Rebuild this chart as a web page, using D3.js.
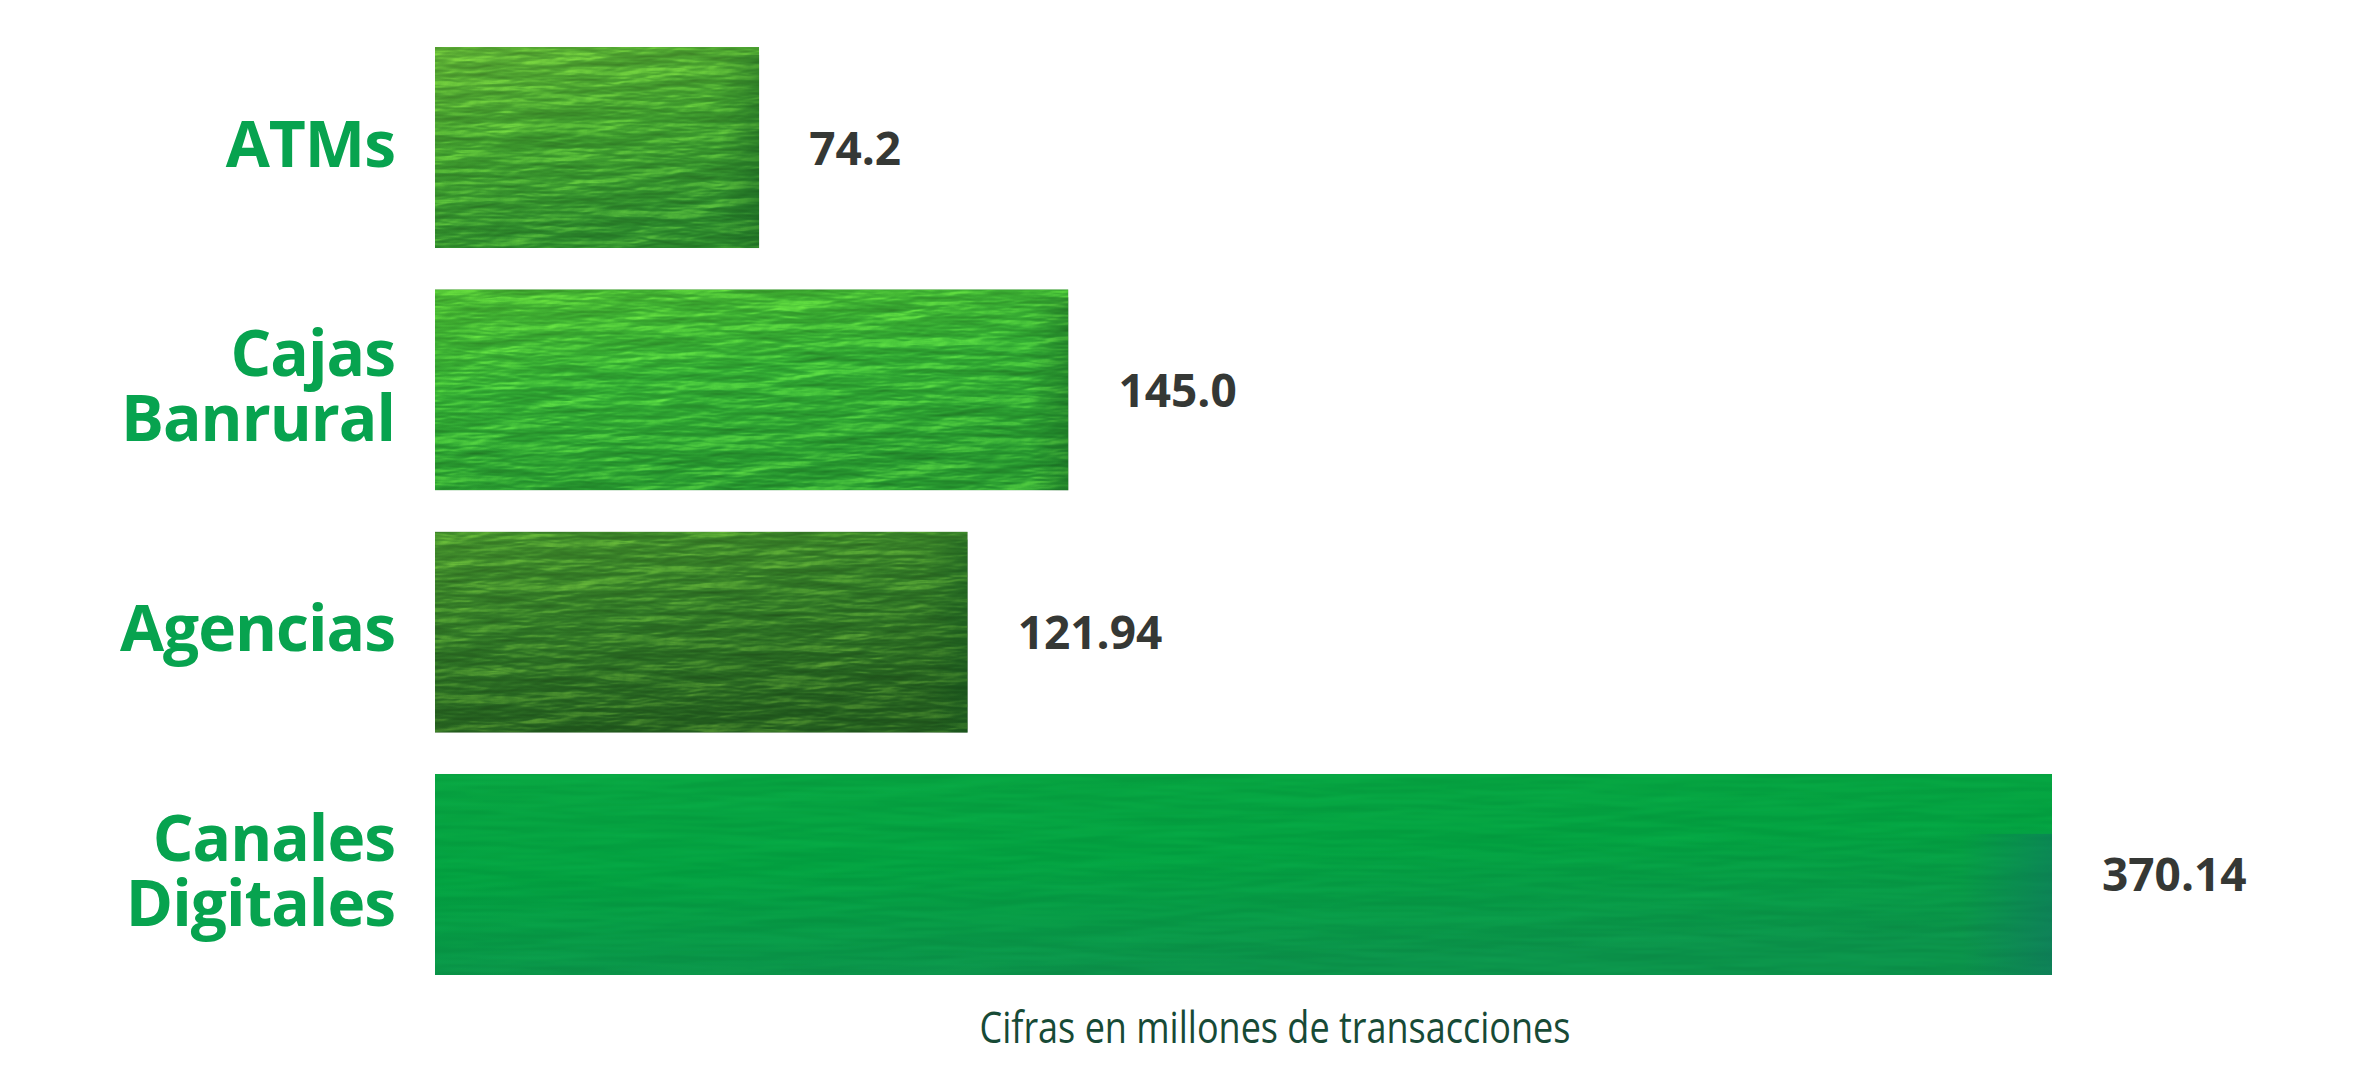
<!DOCTYPE html>
<html>
<head>
<meta charset="utf-8">
<script src="https://cdn.jsdelivr.net/npm/d3@7/dist/d3.min.js"></script>
<style>
  html, body { margin: 0; padding: 0; background: #ffffff; }
  svg { display: block; }
</style>
</head>
<body>
<script>
// ---- data ----
const categories = ["ATMs", "Cajas Banrural", "Agencias", "Canales Digitales"];
const categoryLines = [["ATMs"], ["Cajas", "Banrural"], ["Agencias"], ["Canales", "Digitales"]];
const values = [74.2, 145.0, 121.94, 370.14];
const valueLabels = ["74.2", "145.0", "121.94", "370.14"];
const footnote = "Cifras en millones de transacciones";

// ---- styles ----
const palettes = [
  ["#58a832", "#3d992d", "#2a862b"],
  ["#44b030", "#2fa632", "#26962f"],
  ["#3f8a2a", "#2e7425", "#225c1e"],
  ["#07a240", "#02a040", "#0a9149"]
];
const filtersFor = ["paint", "paint", "paint", "paintSoft"];

const W = 2360, H = 1082;
const svg = d3.select("body").append("svg").attr("width", W).attr("height", H);
const defs = svg.append("defs");

// painterly texture filters
function makeFilter(id, freq, octaves, seed, surface, specColor, specK, mixK) {
  const f = defs.append("filter").attr("id", id)
    .attr("x", 0).attr("y", 0).attr("width", 1).attr("height", 1)
    .attr("color-interpolation-filters", "sRGB");
  f.append("feTurbulence").attr("type", "fractalNoise").attr("baseFrequency", freq)
    .attr("numOctaves", octaves).attr("seed", seed).attr("result", "noise");
  f.append("feDiffuseLighting").attr("in", "noise").attr("lighting-color", "#ffffff")
    .attr("surfaceScale", surface).attr("result", "light")
    .append("feDistantLight").attr("azimuth", 235).attr("elevation", 55);
  f.append("feSpecularLighting").attr("in", "noise").attr("lighting-color", specColor)
    .attr("surfaceScale", surface).attr("specularConstant", specK).attr("specularExponent", 22)
    .attr("result", "spec")
    .append("feDistantLight").attr("azimuth", 235).attr("elevation", 35);
  f.append("feComposite").attr("in", "SourceGraphic").attr("in2", "light")
    .attr("operator", "arithmetic").attr("k1", mixK[0]).attr("k2", mixK[1]).attr("k3", 0).attr("k4", 0)
    .attr("result", "lit");
  f.append("feComposite").attr("in", "spec").attr("in2", "SourceGraphic").attr("operator", "in").attr("result", "specIn");
  f.append("feComposite").attr("in", "specIn").attr("in2", "lit")
    .attr("operator", "arithmetic").attr("k1", 0).attr("k2", 0.8).attr("k3", 1).attr("k4", 0)
    .attr("result", "sum");
  f.append("feComposite").attr("in", "sum").attr("in2", "SourceGraphic").attr("operator", "in");
}
makeFilter("paint", "0.012 0.07", 4, 7, 3, "#d8e848", 0.35, [0.5, 0.6]);
makeFilter("paintSoft", "0.006 0.05", 3, 11, 2, "#a8d870", 0.06, [0.3, 0.76]);

palettes.forEach((p, i) => {
  const g = defs.append("linearGradient").attr("id", "grad" + i)
    .attr("x1", "0%").attr("y1", "0%").attr("x2", "30%").attr("y2", "100%");
  g.append("stop").attr("offset", "0%").attr("stop-color", p[0]);
  g.append("stop").attr("offset", "50%").attr("stop-color", p[1]);
  g.append("stop").attr("offset", "100%").attr("stop-color", p[2]);
});

// ---- scales ----
const x = d3.scaleLinear().domain([0, d3.max(values)]).range([435, 2052]);
const y = d3.scaleBand().domain(categories).range([47, 975]).paddingInner(0.17).paddingOuter(0);

// ---- bars ----
const rows = categories.map((c, i) => ({ c, i, v: values[i], label: valueLabels[i], lines: categoryLines[i] }));

svg.append("g").selectAll("rect").data(rows).join("rect")
  .attr("x", x(0))
  .attr("y", d => y(d.c))
  .attr("width", d => x(d.v) - x(0))
  .attr("height", y.bandwidth())
  .attr("fill", d => `url(#grad${d.i})`)
  .attr("filter", d => `url(#${filtersFor[d.i]})`);

// darker right edge shading
const edge = defs.append("linearGradient").attr("id", "edge").attr("x1", "0%").attr("x2", "100%");
edge.append("stop").attr("offset", "0%").attr("stop-color", "#0f4f1c").attr("stop-opacity", 0);
edge.append("stop").attr("offset", "100%").attr("stop-color", "#0f4f1c").attr("stop-opacity", 0.35);
const edgeBlue = defs.append("linearGradient").attr("id", "edgeBlue").attr("x1", "0%").attr("x2", "100%");
edgeBlue.append("stop").attr("offset", "0%").attr("stop-color", "#126a68").attr("stop-opacity", 0);
edgeBlue.append("stop").attr("offset", "100%").attr("stop-color", "#126a68").attr("stop-opacity", 0.45);

svg.append("g").selectAll("rect").data(rows).join("rect")
  .attr("x", d => x(d.v) - (d.i === 3 ? 90 : 40))
  .attr("y", d => y(d.c) + (d.i === 3 ? 60 : 8))
  .attr("width", d => d.i === 3 ? 90 : 40)
  .attr("height", d => y.bandwidth() - (d.i === 3 ? 60 : 8))
  .attr("fill", d => d.i === 3 ? "url(#edgeBlue)" : "url(#edge)");

// ---- category labels ----
const catG = svg.append("g")
  .attr("font-family", "'Open Sans', sans-serif")
  .attr("font-weight", 700)
  .attr("font-size", 64)
  .attr("fill", "#07a34f")
  .attr("text-anchor", "end");
const lineH = 65;
rows.forEach(d => {
  const cy = y(d.c) + y.bandwidth() / 2;
  const n = d.lines.length;
  d.lines.forEach((t, k) => {
    catG.append("text")
      .attr("x", 395)
      .attr("y", cy + 19 + (k - (n - 1) / 2) * lineH)
      .attr("letter-spacing", -1)
      .text(t);
  });
});

// ---- value labels ----
svg.append("g").selectAll("text").data(rows).join("text")
  .attr("x", d => x(d.v) + 50)
  .attr("y", d => y(d.c) + y.bandwidth() / 2 + 17)
  .attr("font-family", "'Open Sans', sans-serif")
  .attr("font-weight", 700)
  .attr("font-size", 46)
  .attr("fill", "#353835")
  .text(d => d.label);

// ---- footnote ----
svg.append("text")
  .attr("x", 1275)
  .attr("y", 1043)
  .attr("text-anchor", "middle")
  .attr("font-family", "'Open Sans', sans-serif")
  .attr("font-weight", 400)
  .attr("font-size", 44)
  .attr("fill", "#174a36")
  .attr("textLength", 591)
  .attr("lengthAdjust", "spacingAndGlyphs")
  .text(footnote);
</script>
</body>
</html>
